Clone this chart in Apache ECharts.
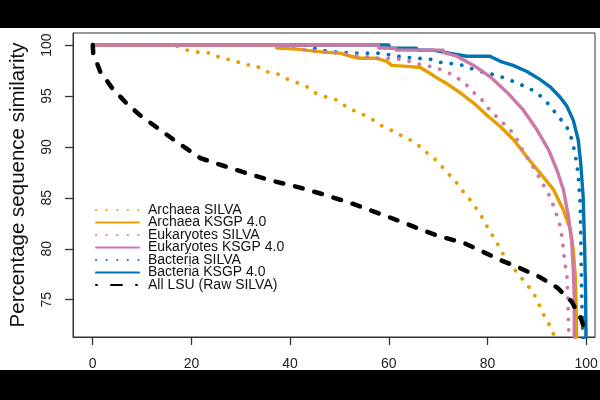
<!DOCTYPE html>
<html>
<head>
<meta charset="utf-8">
<script src="https://cdn.jsdelivr.net/npm/echarts@6/dist/echarts.min.js"></script>
<style>
  html, body { margin: 0; padding: 0; background: #000; }
  #chart { width: 600px; height: 400px; }
</style>
</head>
<body>
<div id="chart"></div>
<script>
// curves: [percent of sequences, similarity]
const archaeaSilva = [[0,100],[16,100],[17,99.9],[19,99.5],[21.4,99.3],[24.1,99.2],[26,98.7],[28.7,98.5],[30.5,98.1],[33,98],[35,97.4],[37.3,97.2],[39.2,96.7],[41.4,96.3],[43.4,95.9],[45.1,95.3],[47.3,94.9],[49.5,94.6],[51.2,94],[53.2,93.5],[55.2,93.1],[57,92.6],[58.8,92],[60.7,91.6],[62.6,91.1],[64.7,90.6],[66.4,90],[68,89.3],[69.6,88.7],[71.1,87.9],[72.4,87.2],[73.9,86.4],[75.1,85.6],[76.5,84.8],[77.7,84],[78.9,83.1],[79.9,82.2],[80.9,81.4],[81.9,80.6],[82.9,79.7],[83.9,78.9],[85.3,78.1],[86.6,77.3],[88,76.5],[89.3,75.7],[90.3,74.7],[91.2,73.7],[92.4,72.7],[93.4,71.6],[94,70.5]];
const archaeaKsgp = [[0,100],[37.2,100],[37.3,99.7],[41.4,99.6],[46.7,99.3],[50.1,99.2],[52.2,98.9],[54.2,98.7],[57.6,98.7],[59.6,98.4],[60.6,98],[63.7,97.9],[66.4,97.8],[68.4,97.2],[69.7,96.8],[71.8,96.2],[74.5,95.3],[77.2,94.3],[79.9,93.1],[82.6,92],[85.3,90.7],[88,89],[90.7,87.4],[93.4,85.8],[95.4,83.8],[96.8,81.9],[97.4,79.9],[97.8,77.3],[98,74.3],[98.1,70]];
const eukSilva = [[0,100],[40,100],[42,99.6],[47.1,99.3],[49.7,99.2],[54.8,98.9],[57.3,98.7],[59.9,98.7],[62.6,98.6],[64.9,98.3],[67,98],[69.4,97.8],[71.4,97.4],[72.4,97.2],[75.1,96.4],[77.1,95.4],[78.9,94.6],[80.5,93.6],[82.6,92.6],[84.6,91.7],[86,90.7],[87.3,89.5],[88.6,88.6],[90,87.4],[91.3,86.3],[92.7,85.1],[93.7,83.8],[94.6,82.5],[95.1,81.2],[95.4,79.9],[95.7,78.6],[96.1,77.3],[96.3,75.3],[96.4,73.4],[96.6,70]];
const eukKsgp = [[0,100],[57.9,100],[58,99.7],[61.3,99.7],[61.5,99.5],[71,99.5],[71.2,99.25],[73.8,98.9],[77.2,98],[80.5,96.9],[83.9,95.4],[87.3,93.6],[90,91.7],[92.4,89.7],[94.1,87.7],[95.4,85.8],[96.4,83.2],[97.1,80.6],[97.4,77.9],[97.6,75.3],[97.6,70]];
const bactSilva = [[0,100],[43,100],[44.7,99.7],[47.4,99.4],[52.5,99.2],[58.4,99.2],[60.6,99],[63,98.8],[65.7,98.7],[68.4,98.6],[70.5,98.3],[72.4,98.2],[75.1,98],[77.8,97.5],[80.5,97.2],[83.9,96.7],[86.3,96.2],[88.3,95.8],[90,95.3],[91.7,94.6],[93,93.8],[94.4,93],[95.5,92.3],[96.4,91.7],[97.1,90.7],[97.6,89.7],[98.1,88.4],[98.4,87.1],[98.6,85.8],[98.8,84.5],[98.9,81.9],[99,78.6],[99.1,75.3],[99.3,72.1],[99.4,70]];
const bactKsgp = [[0,100],[60,100],[60.2,99.7],[65.5,99.7],[66,99.5],[69,99.5],[71.1,99.3],[75.8,98.9],[80.5,98.9],[82.6,98.4],[85.2,98],[88,97.4],[90.7,96.6],[92.7,95.9],[94.7,94.9],[96.1,94],[97.4,92.6],[98.4,90.7],[98.9,88.4],[99.4,85.1],[99.7,80.2],[99.9,75.3],[100,70]];
const allLsu = [[0,100],[0.1,99.2],[1.5,97.4],[3.9,95.8],[6.6,94.4],[9.6,93.1],[13,91.9],[17,90.5],[21.8,88.9],[26.8,88.1],[31.9,87.3],[37,86.6],[42,86],[47,85.3],[52.2,84.5],[57.3,83.6],[62.3,82.7],[66.4,81.9],[70.4,81.2],[75.1,80.6],[79.1,79.7],[82.6,78.9],[86.6,78.1],[90.7,77.2],[94.1,76.2],[97.1,74.8],[99.1,73],[99.4,72.5]];

const xTicks = [0, 20, 40, 60, 80, 100];
const yTicks = [75, 80, 85, 90, 95, 100];

const ORANGE = '#E69F00', PINK = '#CC79A7', BLUE = '#0072B2';
const dotted = [0.1, 10.5];

function curve(name, data, color, type, width, z) {
    return {
        name, type: 'line', data, symbol: 'none', z,
        color,
        lineStyle: {color, width, type, cap: 'round', join: 'round'},
        animation: false
    };
}

const font = '"Liberation Sans", Arial, sans-serif';
const axisColor = '#333';
const chart = echarts.init(document.getElementById('chart'));
chart.setOption({
    backgroundColor: '#fff',
    textStyle: {fontFamily: font},
    graphic: [
        {type: 'rect', left: 0, top: 0, shape: {width: 600, height: 28}, style: {fill: '#000'}},
        {type: 'rect', left: 0, top: 370, shape: {width: 600, height: 30}, style: {fill: '#000'}}
    ],
    grid: {left: 73, right: 5, top: 33, bottom: 63, show: true, borderColor: axisColor, borderWidth: 1, outerBoundsMode: 'none'},
    legend: {
        orient: 'vertical', left: 90, top: 198,
        itemWidth: 43, itemHeight: 12, itemGap: -1.5,
        itemStyle: {opacity: 0},
        textStyle: {fontSize: 14, color: '#111', fontFamily: font, padding: [0, 0, 0, 4]},
        data: ['Archaea SILVA', 'Archaea KSGP 4.0', 'Eukaryotes SILVA', 'Eukaryotes KSGP 4.0', 'Bacteria SILVA', 'Bacteria KSGP 4.0',
            {name: 'All LSU (Raw SILVA)', lineStyle: {type: [1, 14, 11, 14, 1, 100]}}]
    },
    xAxis: {
        type: 'value', min: -4, max: 101.8,
        axisLine: {show: true, onZero: false, lineStyle: {color: axisColor}},
        splitLine: {show: false},
        axisTick: {show: true, customValues: xTicks, length: 8, lineStyle: {color: axisColor, width: 1.3}},
        axisLabel: {customValues: xTicks, fontSize: 14, color: '#222', margin: 20}
    },
    yAxis: {
        type: 'value', min: 71.34, max: 101.18,
        name: 'Percentage sequence similarity',
        nameLocation: 'middle', nameRotate: 90, nameGap: 44,
        nameTextStyle: {fontSize: 20.5, color: '#111'},
        axisLine: {show: true, onZero: false, lineStyle: {color: axisColor}},
        splitLine: {show: false},
        axisTick: {show: true, customValues: yTicks, length: 8, lineStyle: {color: axisColor, width: 1.3}},
        axisLabel: {customValues: yTicks, fontSize: 14, color: '#222', rotate: 90, margin: 19}
    },
    series: [
        curve('Archaea SILVA', archaeaSilva, ORANGE, dotted, 3.8, 3),
        curve('Archaea KSGP 4.0', archaeaKsgp, ORANGE, 'solid', 3.4, 3),
        curve('Eukaryotes SILVA', eukSilva, PINK, dotted, 3.8, 4),
        curve('Eukaryotes KSGP 4.0', eukKsgp, PINK, 'solid', 3.4, 4),
        curve('Bacteria SILVA', bactSilva, BLUE, dotted, 3.8, 2),
        curve('Bacteria KSGP 4.0', bactKsgp, BLUE, 'solid', 3.4, 2),
        curve('All LSU (Raw SILVA)', allLsu, '#000', [8, 12], 4.5, 5)
    ]
});
</script>
</body>
</html>
